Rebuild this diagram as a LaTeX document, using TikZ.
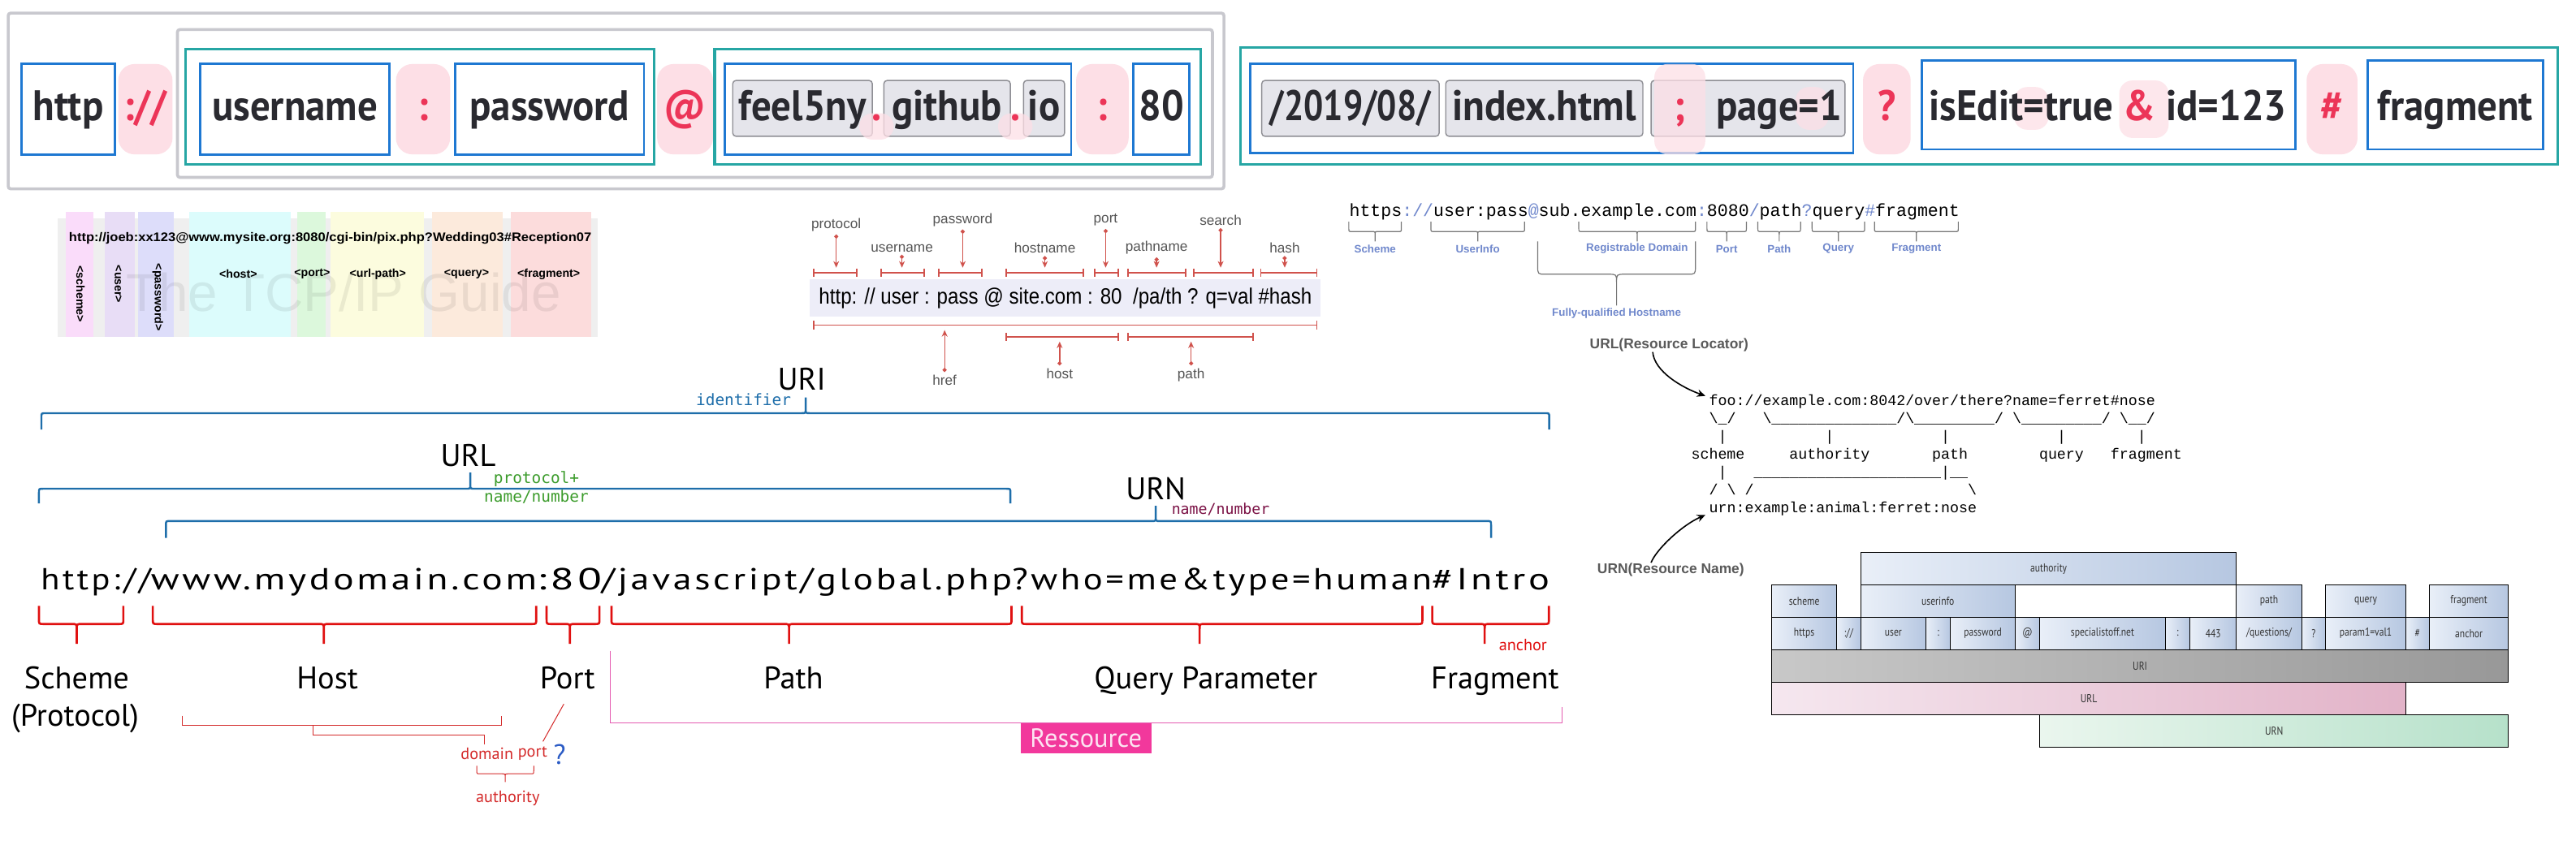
\documentclass[tikz,border=0pt]{standalone}
\usepackage{fontspec}
\usepackage{graphicx}
\usepackage{tikz}
\usetikzlibrary{arrows,arrows.meta,shapes,calc,positioning}

\newlength\ux
\setlength\ux{0.2023mm}
\newcommand\fsz[1]{\fontsize{#1\ux}{#1\ux}\selectfont}
\newcommand\blank[1]{\hspace*{\dimexpr#1\fontcharwd\font`0\relax}}
\newcommand\unders[1]{\foreach\k in {1,...,#1}{\_}}
\newcommand\sepc[1]{\textcolor{eblue}{#1}}

\newfontfamily\boxfont{PT Sans}[FakeStretch=0.93]
\newfontfamily\narrowfont{PT Sans}
\newfontfamily\cellfont{PT Sans}[FakeStretch=0.82]
\newfontfamily\spacedfont{PT Sans}[LetterSpace=8]
\newfontfamily\courfont{Liberation Mono}
\newfontfamily\idfont{DejaVu Sans Mono}
\newfontfamily\arialfont{Liberation Sans}

\definecolor{boxblue}{HTML}{1E78D2}
\definecolor{groupteal}{HTML}{26A6A4}
\definecolor{framegray}{HTML}{C8C8CE}
\definecolor{seppink}{HTML}{FDDFE6}
\definecolor{sepred}{HTML}{EC3558}
\definecolor{chipfill}{HTML}{E5E5EB}
\definecolor{chipline}{HTML}{8E8E94}
\definecolor{darktext}{HTML}{2A2A30}
\definecolor{tcpback}{HTML}{EFEFEF}
\definecolor{tcpa}{HTML}{FADCFA}
\definecolor{tcpb}{HTML}{E8DDF6}
\definecolor{tcpc}{HTML}{DDDDFA}
\definecolor{tcpd}{HTML}{DCFCFC}
\definecolor{tcpe}{HTML}{DCF8DC}
\definecolor{tcpf}{HTML}{FCFCDE}
\definecolor{tcpg}{HTML}{FCEADC}
\definecolor{tcph}{HTML}{FCDCDC}
\definecolor{lavbar}{HTML}{EDEDF8}
\definecolor{dred}{HTML}{D0524C}
\definecolor{dgray}{HTML}{555555}
\definecolor{eblue}{HTML}{7088CC}
\definecolor{bracegray}{HTML}{777777}
\definecolor{notegray}{HTML}{5A5A5A}
\definecolor{cellL}{HTML}{E9EFF8}
\definecolor{cellR}{HTML}{B6C7E1}
\definecolor{uriL}{HTML}{C8C8C8}
\definecolor{uriR}{HTML}{989898}
\definecolor{urlL}{HTML}{F5E7EF}
\definecolor{urlR}{HTML}{E2B3C8}
\definecolor{urnL}{HTML}{EAF6EE}
\definecolor{urnR}{HTML}{B6E1CA}
\definecolor{celltext}{HTML}{333333}
\definecolor{uriblue}{HTML}{1E6EAA}
\definecolor{idgreen}{HTML}{3C9C2C}
\definecolor{urnmag}{HTML}{7B1145}
\definecolor{bred}{HTML}{E01010}
\definecolor{tred}{HTML}{D42A2A}
\definecolor{pinkline}{HTML}{E45BB0}
\definecolor{resspink}{HTML}{F2389C}
\definecolor{resstext}{HTML}{FCE4F2}
\definecolor{qblue}{HTML}{2C5CC5}

\tikzstyle{boxword}  =[font=\boxfont\bfseries\fsz{26}, text=darktext,
                       inner sep=0pt, anchor=base]
\tikzstyle{sepword}  =[boxword, text=sepred]
\tikzstyle{urlpart}  =[draw=boxblue, line width=1.4\ux, fill=white,
                       minimum height=55\ux, inner sep=0pt]
\tikzstyle{sepbox}   =[fill=seppink, rounded corners=10\ux,
                       minimum height=55\ux, inner sep=0pt]
\tikzstyle{chipbox}  =[draw=chipline, fill=chipfill, line width=0.7\ux,
                       rounded corners=2\ux, minimum height=34\ux, inner sep=0pt]
\tikzstyle{ovalbox}  =[fill=seppink, opacity=0.75, rounded corners=8\ux,
                       inner sep=0pt]
\tikzstyle{greyframe}=[draw=framegray, line width=1.8\ux, rounded corners=1.5\ux]
\tikzstyle{tealgroup}=[draw=groupteal, line width=1.6\ux]
\tikzstyle{tcplabel} =[font=\arialfont\bfseries\fsz{7}, inner sep=0pt]
\tikzstyle{redbar}   =[draw=dred, line width=0.9\ux,
                       {Bar[width=2.9pt]}-{Bar[width=2.9pt]}]
\tikzstyle{redpin}   =[draw=dred, line width=0.7\ux,
                       {Circle[length=1.4pt]}-{Stealth[length=2.3pt,width=2pt]}]
\tikzstyle{partlabel}=[font=\arialfont\fsz{8.5}, text=dgray, inner sep=0pt]
\tikzstyle{graybrace}=[draw=bracegray, line width=0.6\ux]
\tikzstyle{elabel}   =[font=\arialfont\bfseries\fsz{6.6}, text=eblue, inner sep=0pt]
\tikzstyle{ascii}    =[font=\courfont\fsz{9.05}, anchor=base west, inner sep=0pt]
\tikzstyle{notelabel}=[font=\arialfont\bfseries\fsz{8.6}, text=notegray, inner sep=0pt]
\tikzstyle{curvearrow}=[draw=black, line width=0.8\ux,
                       -{Stealth[length=2.9pt,width=2.6pt]}]
\tikzstyle{cellbox}  =[draw=black, line width=0.5\ux, left color=cellL, right color=cellR]
\tikzstyle{celltext} =[font=\cellfont\fsz{7}, text=celltext, inner sep=0pt]
\tikzstyle{bluebrace}=[draw=uriblue, line width=1.2\ux]
\tikzstyle{redbrace} =[draw=bred, line width=1.3\ux]
\tikzstyle{thinred}  =[draw=tred, line width=0.5\ux]
\tikzstyle{bigname}  =[font=\narrowfont\fsz{19}, inner sep=0pt, anchor=base]
\tikzstyle{bigurl}   =[font=\spacedfont\fsz{18.5}, inner sep=0pt, anchor=base west]
\tikzstyle{idnote}   =[font=\idfont\fsz{9.6}, inner sep=0pt]
\tikzstyle{smallred} =[font=\narrowfont\fsz{10}, text=tred, inner sep=0pt]

% brace: [style]{x1}{xmid}{x2}{yend}{ybar}{ytick}
\newcommand\brad{3}
\newcommand\curly[7][]{%
  \pgfmathsetmacro\bkt{(#6>#5)?1:-1}%
  \pgfmathsetmacro\bks{(#7>#6)?1:-1}%
  \pgfmathsetmacro\bya{#6-\brad*\bkt}%
  \pgfmathsetmacro\byb{#6+\brad*\bks}%
  \draw[#1] (#2,#5) -- (#2,\bya) .. controls (#2,#6) .. ({#2+\brad},#6)
    -- ({#3-\brad},#6) .. controls (#3,#6) .. (#3,\byb) -- (#3,#7)
    (#4,#5) -- (#4,\bya) .. controls (#4,#6) .. ({#4-\brad},#6)
    -- ({#3+\brad},#6) .. controls (#3,#6) .. (#3,\byb);}

\begin{document}
\begin{tikzpicture}[x=\ux, y=-\ux]
  \useasboundingbox (0,0) rectangle (1568,512);
  \fill[white] (0,0) rectangle (1568,512);

  % boxed url, authority part
  \draw[greyframe] (5,8) rectangle (745,115);
  \draw[greyframe] (108,18) rectangle (738,108);
  \draw[tealgroup] (113,30) rectangle (398,100);
  \draw[tealgroup] (435,30) rectangle (731,100);
  \node[urlpart, minimum width=57\ux] (scheme) at (41.5,66.5) {};
  \node[sepbox, minimum width=33\ux] (s-scheme) at (88.5,66.5) {};
  \node[urlpart, minimum width=115\ux] (user) at (179.5,66.5) {};
  \node[sepbox, minimum width=33\ux] (s-user) at (257.5,66.5) {};
  \node[urlpart, minimum width=115\ux] (pass) at (334.5,66.5) {};
  \node[sepbox, minimum width=34\ux] (s-at) at (417,66.5) {};
  \node[urlpart, minimum width=211\ux] (host) at (546.5,66.5) {};
  \node[chipbox, minimum width=85\ux] (sub) at (488.5,66) {};
  \node[chipbox, minimum width=77\ux] (dom) at (576.5,66) {};
  \node[chipbox, minimum width=25\ux] (tld) at (635.5,66) {};
  \node[ovalbox, minimum width=21\ux, minimum height=16\ux] (o-dot1) at (533.5,77) {};
  \node[ovalbox, minimum width=21\ux, minimum height=16\ux] (o-dot2) at (618,77) {};
  \node[sepbox, minimum width=32\ux] (s-port) at (671,66.5) {};
  \node[urlpart, minimum width=34\ux] (port) at (707,66.5) {};
  \node[boxword] (t-scheme) at (41.5,73.5) {http};
  \node[sepword] (t-sscheme) at (88.5,73.5) {://};
  \node[boxword] (t-user) at (179.5,73.5) {username};
  \node[sepword] (t-suser) at (257.5,73.5) {:};
  \node[boxword] (t-pass) at (334.5,73.5) {password};
  \node[sepword] (t-sat) at (417,73.5) {@};
  \node[boxword] (t-sub) at (488.5,73.5) {feel5ny};
  \node[sepword] (t-dot1) at (533.5,73.5) {.};
  \node[boxword] (t-dom) at (576.5,73.5) {github};
  \node[sepword] (t-dot2) at (618,73.5) {.};
  \node[boxword] (t-tld) at (635.5,73.5) {io};
  \node[sepword] (t-sport) at (671,73.5) {:};
  \node[boxword] (t-port) at (707,73.5) {80};

  % boxed url, path part
  \draw[tealgroup] (755,29) rectangle (1557,100);
  \node[urlpart, minimum width=367\ux, minimum height=54\ux] (path) at (944.5,66) {};
  \node[chipbox, minimum width=108\ux] (dir) at (822,66) {};
  \node[chipbox, minimum width=120\ux] (file) at (940,66) {};
  \node[chipbox, minimum width=118\ux] (param) at (1064,66) {};
  \node[ovalbox, minimum width=31\ux, minimum height=55\ux] (s-semi) at (1022.5,66.5) {};
  \node[ovalbox, minimum width=20\ux, minimum height=26\ux] (o-eq1) at (1103,66) {};
  \node[sepbox, minimum width=29\ux] (s-query) at (1148.5,66.5) {};
  \node[urlpart, minimum width=227\ux, minimum height=54\ux] (query) at (1283.5,64) {};
  \node[ovalbox, minimum width=21\ux, minimum height=26\ux] (o-eq2) at (1236.5,66) {};
  \node[ovalbox, minimum width=30\ux, minimum height=35\ux] (o-amp) at (1305,66.5) {};
  \node[sepbox, minimum width=31\ux] (s-frag) at (1419.5,66.5) {};
  \node[urlpart, minimum width=107\ux, minimum height=54\ux] (frag) at (1494.5,64) {};
  \node[boxword] (t-dir) at (822,73.5) {\resizebox{98\ux}{\height}{/2019/08/}};
  \node[boxword] (t-file) at (940,73.5) {\resizebox{112\ux}{\height}{index.html}};
  \node[sepword] (t-semi) at (1022.5,73.5) {;};
  \node[boxword] (t-param) at (1083,73.5) {page=1};
  \node[sepword] (t-squery) at (1148.5,73.5) {?};
  \node[boxword] (t-query) at (1283,73.5) {isEdit=true \textcolor{sepred}{\&} id=123};
  \node[sepword] (t-sfrag) at (1419.5,73.5) {\#};
  \node[boxword] (t-frag) at (1494.5,73.5) {fragment};

  % tcp/ip guide strip
  \fill[tcpback] (35,133) rectangle (364,205);
  \foreach \xa/\xb/\col in {40/57/tcpa, 64/82/tcpb, 84/106/tcpc, 115/177/tcpd,
                            181/198/tcpe, 201/258/tcpf, 263/306/tcpg, 311/360/tcph}
    \fill[\col] (\xa,129) rectangle (\xb,205);
  \node[font=\arialfont\fsz{32.4}, text=black, text opacity=0.07] (wm) at (209,178) {The TCP/IP Guide};
  \node[tcplabel, font=\arialfont\bfseries\fsz{7.6}] (tcpurl) at (201,145)
    {\resizebox{318\ux}{\height}{http://joeb:xx123@www.mysite.org:8080/cgi-bin/pix.php?Wedding03\#Reception07}};
  \foreach \x/\t in {145/host, 190/port, 230/url-path, 284/query, 334/fragment}
    \node[tcplabel] (tcp-\t) at (\x,167) {<\t>};
  \node[tcplabel, rotate=-90] (tcp-scheme) at (49,179) {<scheme>};
  \node[tcplabel, rotate=-90] (tcp-user) at (72,173) {<user>};
  \node[tcplabel, rotate=-90] (tcp-pass) at (96,181) {<password>};

  % url object properties
  \fill[lavbar] (493,170) rectangle (804,193);
  \node[font=\arialfont\fsz{13.5}, inner sep=0pt] (sample) at (648.5,181.5)
    {\resizebox{300\ux}{\height}{http: // user : pass @ site.com : 80\ \ /pa/th ? q=val \#hash}};
  \foreach \xa/\xb/\xm/\t/\ly in {495/522/509/protocol/137, 536/563/549/username/151,
      571/598/586/password/134, 612/660/636/hostname/151, 666/681/673/port/134,
      686/722/704/pathname/151, 726/763/743/search/134, 767/802/782/hash/151}{
    \draw[redbar] (\xa,166) -- (\xb,166);
    \node[partlabel] (lb-\t) at (\xm,\ly) {\t};
    \draw[redpin] ([yshift=-1.5\ux]lb-\t.south) -- (\xm,163);
  }
  \draw[redbar] (495,198) -- (802,198);
  \draw[redbar] (612,205) -- (681,205);
  \draw[redbar] (686,205) -- (763,205);
  \node[partlabel, anchor=north] (lb-href) at (575,228) {href};
  \node[partlabel, anchor=north] (lb-host) at (645,224) {host};
  \node[partlabel, anchor=north] (lb-path) at (725,224) {path};
  \draw[redpin] ([yshift=1.5\ux]lb-href.north) -- (575,201);
  \draw[redpin] ([yshift=1.5\ux]lb-host.north) -- (645,208);
  \draw[redpin] ([yshift=1.5\ux]lb-path.north) -- (725,208);

  % url with registrable domain
  \node[font=\courfont\fsz{10.67}, anchor=base west, inner sep=0pt] (furl) at (821,131.5)
    {https\sepc{://}user:pass\sepc{@}sub.example.com\sepc{:}8080\sepc{/}path\sepc{?}query\sepc{\#}fragment};
  \renewcommand\brad{2}
  \foreach \xa/\xm/\xb/\t in {821/837/853/Scheme, 871/899.5/928/UserInfo,
      961/996.5/1032/Registrable Domain, 1039/1051/1063/Port, 1070/1083/1096/Path,
      1103/1119/1135/Query, 1141/1166.5/1192/Fragment}{
    \curly[graybrace]{\xa}{\xm}{\xb}{135}{141}{147}
    \node[elabel] (e-\xm) at (\xm,151.5) {\t};
  }
  \renewcommand\brad{5}
  \curly[graybrace]{936}{984}{1032}{147}{167}{186}
  \node[elabel] (e-fq) at (984,191) {Fully-qualified Hostname};

  % rfc 3986 example
  \node[notelabel] (urlnote) at (1016,210) {URL(Resource Locator)};
  \node[ascii] (r1) at (1040,247) {foo://example.com:8042/over/there?name=ferret\#nose};
  \node[ascii] (r2) at (1040,257.9) {\textbackslash\_/\blank{3}\textbackslash\unders{14}/\textbackslash\unders{9}/\blank{1}\textbackslash\unders{9}/\blank{1}\textbackslash\_\_/};
  \node[ascii] (r3) at (1040,268.8) {\blank{1}|\blank{11}|\blank{12}|\blank{12}|\blank{8}|};
  \node[ascii] (r4) at (1029.1,279.7) {scheme\blank{5}authority\blank{7}path\blank{8}query\blank{3}fragment};
  \node[ascii] (r5) at (1040,290.6) {\blank{1}|\blank{3}\unders{21}|\_\_};
  \node[ascii] (r6) at (1040,301.5) {/\blank{1}\textbackslash\blank{1}/\blank{24}\textbackslash};
  \node[ascii] (r7) at (1040,312.4) {urn:example:animal:ferret:nose};
  \node[notelabel] (urnnote) at (1017,347) {URN(Resource Name)};
  \draw[curvearrow] ([xshift=-10\ux]urlnote.south) .. controls +(1,12) and +(-14,-5) .. ([shift={(-2\ux,-1\ux)}]r1.north west);
  \draw[curvearrow] ([xshift=-12\ux]urnnote.north) .. controls +(3,-8) and +(-14,6) .. ([shift={(-2\ux,1\ux)}]r7.south west);

  % uri / url / urn boxes
  \draw[cellbox] (1132.6,336.5) rectangle (1361.3,356.1) node[celltext] (g-auth) at (1247,346.3) {authority};
  \foreach \xa/\xb/\t in {1078.4/1118/scheme, 1132.6/1226.6/userinfo, 1361.3/1401/path,
                          1415.6/1464.4/query, 1478.7/1526.9/fragment}
    \draw[cellbox] (\xa,356.1) rectangle (\xb,375.8) node[celltext] (g-\t) at ({(\xa+\xb)/2},366) {\t};
  \foreach \xa/\xb/\t [count=\i] in {1078.4/1118/{https}, 1118/1132.6/{://}, 1132.6/1172.3/{user},
      1172.3/1187.3/{:}, 1187.3/1226.6/{password}, 1226.6/1241.6/{@}, 1241.6/1318/{specialistoff.net},
      1318/1333/{:}, 1333/1361.3/{443}, 1361.3/1401/{/questions/}, 1401/1415.6/{?},
      1415.6/1464.4/{param1=val1}, 1464.4/1478.7/{\#}, 1478.7/1526.9/{anchor}}
    \draw[cellbox] (\xa,375.8) rectangle (\xb,395.6) node[celltext] (g-\i) at ({(\xa+\xb)/2},385.7) {\t};
  \draw[cellbox, left color=uriL, right color=uriR] (1078.4,395.6) rectangle (1526.9,415.4)
    node[celltext] (g-uri) at (1302.6,405.5) {URI};
  \draw[cellbox, left color=urlL, right color=urlR] (1078.4,415.4) rectangle (1464.4,435.1)
    node[celltext] (g-url) at (1271.4,425.3) {URL};
  \draw[cellbox, left color=urnL, right color=urnR] (1241.6,435.1) rectangle (1526.9,454.9)
    node[celltext] (g-urn) at (1384.2,445) {URN};

  % uri, url, urn braces
  \renewcommand\brad{2.5}
  \curly[bluebrace]{25.2}{490.4}{943}{261.6}{251.6}{242}
  \curly[bluebrace]{23.7}{286.3}{615}{306.5}{297.6}{287.7}
  \curly[bluebrace]{101}{703.5}{907.6}{327.5}{317.3}{308}
  \node[bigname, anchor=center] (uri) at (488,231) {URI};
  \node[idnote, text=uriblue] (n-uri) at (452.6,243.5) {identifier};
  \node[bigname, anchor=center] (url) at (285,277.5) {URL};
  \node[idnote, text=idgreen] (n-url1) at (326.5,291.6) {protocol+};
  \node[idnote, text=idgreen] (n-url2) at (326.5,302.6) {name/number};
  \node[bigname, anchor=center] (urn) at (703.5,297.5) {URN};
  \node[idnote, text=urnmag, font=\idfont\fsz{9}] (n-urn) at (743,310) {name/number};

  % the sample url
  \node[bigurl] (u1) at (24.6,359.2) {\resizebox{66.9\ux}{\height}{http://}};
  \node[bigurl] (u2) at (91.5,359.2) {\resizebox{234.9\ux}{\height}{www.mydomain.com}};
  \node[bigurl] (u3) at (326.4,359.2) {\resizebox{39.5\ux}{\height}{:80}};
  \node[bigurl] (u4) at (365.9,359.2) {\resizebox{249.8\ux}{\height}{/javascript/global.php}};
  \node[bigurl] (u5) at (615.7,359.2) {\resizebox{255.5\ux}{\height}{?who=me\&type=human}};
  \node[bigurl] (u6) at (871.2,359.2) {\resizebox{71.6\ux}{\height}{\#Intro}};

  \renewcommand\brad{3}
  \curly[redbrace]{23.7}{46.7}{75.1}{369}{380}{392}
  \curly[redbrace]{93}{197.1}{326.4}{369}{380}{392}
  \curly[redbrace]{332.7}{346.9}{364.9}{369}{380}{392}
  \curly[redbrace]{372.2}{480.3}{615.7}{369}{380}{392}
  \curly[redbrace]{622}{730.2}{865.8}{369}{380}{392}
  \curly[redbrace]{871.8}{903.7}{942.8}{369}{380}{392}
  \node[smallred, text=bred] (anc) at (927,393) {anchor};
  \node[bigname] (p-scheme) at (46.7,419.3) {Scheme};
  \node[bigname] (p-proto) at (45.7,442.4) {(Protocol)};
  \node[bigname] (p-host) at (199.3,419.3) {Host};
  \node[bigname] (p-port) at (345.4,419.3) {Port};
  \node[bigname] (p-path) at (483,419.3) {Path};
  \node[bigname] (p-query) at (734,419.3) {Query Parameter};
  \node[bigname] (p-frag) at (910,419.3) {Fragment};

  % resource bracket
  \node[fill=resspink, text=resstext, font=\narrowfont\fsz{16}, inner sep=0pt,
        minimum width=79.5\ux, minimum height=18\ux, anchor=north] (ress) at (661,440.2) {Ressource};
  \coordinate (rA) at (371.5,396.3);
  \coordinate (rB) at (951,430.4);
  \draw[draw=pinkline, line width=0.6\ux] (rA) |- (rB |- ress.north) -- (rB);

  % domain, port, authority
  \node[smallred] (dom-l) at (296.5,458.9) {domain};
  \node[smallred] (port-l) at (324.2,458.9) {port};
  \node[font=\narrowfont\fsz{17}, text=qblue, inner sep=0pt] (qm) at (340.6,459.5) {?};
  \node[smallred] (auth-l) at (309.1,486.1) {authority};
  \draw[thinred] (111,435.8) |- (305,441.6) -- (305,435.8);
  \draw[thinred] (190.8,441.6) |- (294.9,447.7) -- (294.9,453.1);
  \draw[thinred] (343.2,428.7) -- (330.5,451.5);
  \renewcommand\brad{2}
  \curly[thinred]{290.2}{307.5}{324.9}{466.3}{471.2}{476.2}
\end{tikzpicture}
\end{document}
